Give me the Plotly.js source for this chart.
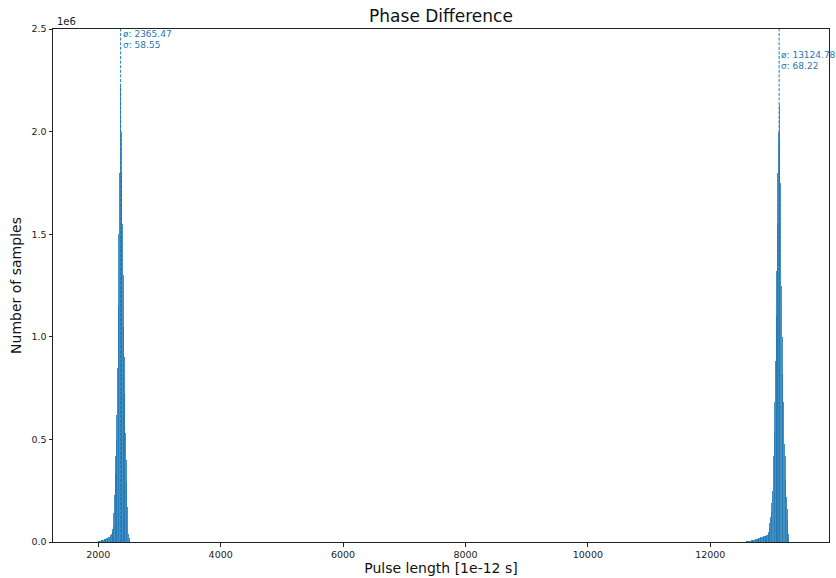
<!DOCTYPE html>
<html>
<head>
<meta charset="utf-8">
<script src="https://cdn.plot.ly/plotly-3.0.1.min.js"></script>
<style>html,body{margin:0;padding:0;background:#fff;}#chart{width:836px;height:578px;}</style>
</head>
<body>
<div id="chart"></div>
<script>
// Histogram bin centers (1e-12 s) and counts (in units of 1e6 samples)
const leftCenters = [1995,2005,2015,2025,2035,2045,2055,2065,2075,2085,2095,2105,2115,2125,2135,2145,2155,2165,2175,2185,2195,2205,2215,2225,2235,2245,2255,2265,2275,2285,2295,2305,2315,2325,2335,2345,2355,2365,2375,2385,2395,2405,2415,2425,2435,2445,2455,2465,2475,2485,2495,2505,2515,2525];
const leftCounts = [0.003,0.004,0.005,0.006,0.007,0.008,0.009,0.010,0.011,0.012,0.013,0.014,0.015,0.017,0.018,0.020,0.021,0.023,0.024,0.026,0.028,0.032,0.040,0.050,0.062,0.080,0.14,0.23,0.33,0.42,0.50,0.62,0.85,1.15,1.50,1.80,2.00,2.22,2.00,1.80,1.55,1.30,1.05,0.90,0.72,0.53,0.40,0.29,0.17,0.08,0.04,0.02,0.006,0.002];
const rightCenters = [12565,12575,12585,12595,12605,12615,12625,12635,12645,12655,12665,12675,12685,12695,12705,12715,12725,12735,12745,12755,12765,12775,12785,12795,12805,12815,12825,12835,12845,12855,12865,12875,12885,12895,12905,12915,12925,12935,12945,12955,12965,12975,12985,12995,13005,13015,13025,13035,13045,13055,13065,13075,13085,13095,13105,13115,13125,13135,13145,13155,13165,13175,13185,13195,13205,13215,13225,13235,13245,13255,13265,13275,13285];
const rightCounts = [0.002,0.002,0.003,0.003,0.004,0.004,0.005,0.005,0.006,0.006,0.007,0.008,0.008,0.009,0.010,0.011,0.012,0.013,0.014,0.015,0.016,0.017,0.018,0.019,0.020,0.021,0.022,0.023,0.024,0.025,0.026,0.027,0.028,0.029,0.030,0.032,0.034,0.036,0.040,0.050,0.070,0.095,0.12,0.15,0.19,0.25,0.32,0.42,0.53,0.68,0.88,1.10,1.32,1.55,1.80,2.00,2.13,1.95,1.75,1.50,1.25,1.00,0.82,0.68,0.57,0.48,0.42,0.30,0.22,0.16,0.10,0.04,0.006];
const binWidth = 10;
const means = [2365.47, 13124.78];
const sigmas = [58.55, 68.22];
const xTicks = [2000, 4000, 6000, 8000, 10000, 12000];
const yTicks = [0.0, 0.5, 1.0, 1.5, 2.0, 2.5];

const barColor = 'rgba(31,119,180,0.82)';
const lineColor = '#1f77b4';
const font = 'DejaVu Sans, sans-serif';

const traces = [
  {type:'bar', x:leftCenters, y:leftCounts, width:binWidth * 1.5, marker:{color:barColor, line:{width:0}}, hoverinfo:'x+y'},
  {type:'bar', x:rightCenters, y:rightCounts, width:binWidth * 1.5, marker:{color:barColor, line:{width:0}}, hoverinfo:'x+y'}
];

const labelY = [[2.478, 2.424], [2.372, 2.318]];
const annotations = [
  {xref:'paper', yref:'paper', x:0.002, y:1.0, xanchor:'left', yanchor:'bottom', text:'1e6', showarrow:false, font:{family:font, size:10, color:'#222'}}
];
means.forEach((m, i) => {
  annotations.push({x:m + 4, y:labelY[i][0], xanchor:'left', yanchor:'middle', text:'ø: ' + m.toFixed(2), showarrow:false, font:{family:font, size:9, color:lineColor}});
  annotations.push({x:m + 4, y:labelY[i][1], xanchor:'left', yanchor:'middle', text:'σ: ' + sigmas[i].toFixed(2), showarrow:false, font:{family:font, size:9, color:lineColor}});
});

const shapes = means.map(m => ({type:'line', xref:'x', yref:'paper', x0:m, x1:m, y0:0, y1:1, line:{color:lineColor, width:1, dash:'3px,1.6px'}}));

const layout = {
  width:836, height:578,
  margin:{l:53, r:7, t:29, b:36, pad:0},
  paper_bgcolor:'#fff', plot_bgcolor:'#fff',
  showlegend:false,
  bargap:0,
  barmode:'overlay',
  title:{text:'Phase Difference', x:0.5275, xanchor:'center', y:0.972, yanchor:'middle', font:{family:font, size:17, color:'#111'}},
  xaxis:{
    range:[1260, 13940], tickvals:xTicks, ticktext:xTicks.map(String),
    showgrid:false, zeroline:false, showline:true, mirror:true, linecolor:'#222', linewidth:1,
    ticks:'outside', ticklen:3.5, tickcolor:'#222', tickfont:{family:font, size:9.5, color:'#222'},
    title:{text:'Pulse length [1e-12 s]', font:{family:font, size:14, color:'#111'}, standoff:4},
    automargin:false
  },
  yaxis:{
    range:[0, 2.5], tickvals:yTicks, ticktext:yTicks.map(v => v.toFixed(1)),
    showgrid:false, zeroline:false, showline:true, mirror:true, linecolor:'#222', linewidth:1,
    ticks:'outside', ticklen:3.5, tickcolor:'#222', tickfont:{family:font, size:9.5, color:'#222'},
    title:{text:'Number of samples', font:{family:font, size:14, color:'#111'}, standoff:6},
    automargin:false
  },
  annotations:annotations,
  shapes:shapes
};

Plotly.newPlot('chart', traces, layout, {displayModeBar:false, staticPlot:true});
</script>
</body>
</html>
